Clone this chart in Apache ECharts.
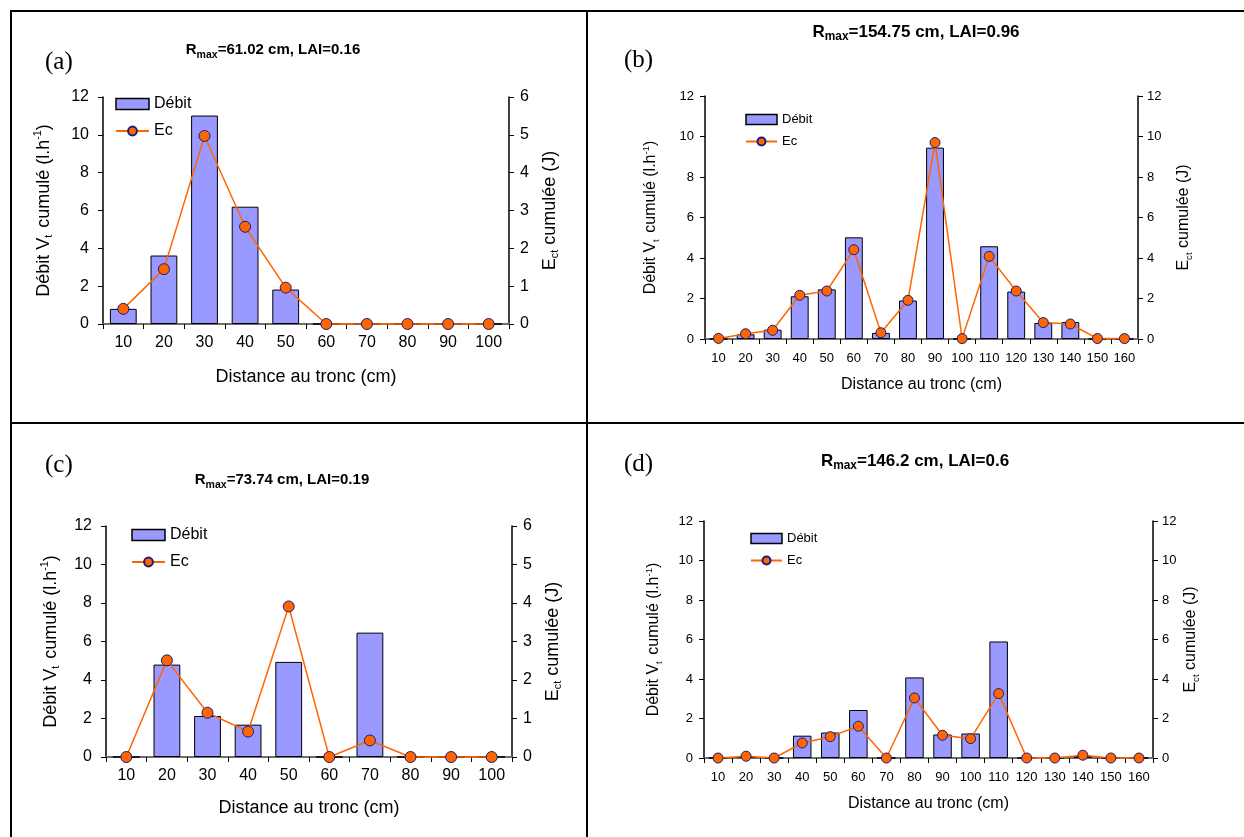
<!DOCTYPE html>
<html>
<head>
<meta charset="utf-8">
<script src="https://cdn.jsdelivr.net/npm/echarts@6/dist/echarts.min.js"></script>
<style>
html,body{margin:0;padding:0;background:#fff;}
#chart{width:1244px;height:837px;}
</style>
</head>
<body>
<div id="chart"></div>
<script>
// ---- data ----
const catsA = ['10','20','30','40','50','60','70','80','90','100'];
const catsB = ['10','20','30','40','50','60','70','80','90','100','110','120','130','140','150','160'];
const catsC = ['10','20','30','40','50','60','70','80','90','100'];
const catsD = ['10','20','30','40','50','60','70','80','90','100','110','120','130','140','150','160'];

const debitA = [0.8, 3.62, 11.02, 6.2, 1.82, 0, 0, 0, 0, 0];
const ecA    = [0.4, 1.45, 4.97, 2.57, 0.96, 0, 0, 0, 0, 0];

const debitB = [0, 0.23, 0.46, 2.11, 2.45, 5.02, 0.3, 1.9, 9.45, 0, 4.58, 2.34, 0.79, 0.84, 0, 0];
const ecB    = [0.03, 0.26, 0.43, 2.16, 2.37, 4.41, 0.31, 1.91, 9.7, 0.02, 4.08, 2.37, 0.81, 0.74, 0.02, 0.02];

const debitC = [0, 4.8, 2.13, 1.68, 4.94, 0, 6.46, 0, 0, 0];
const ecC    = [0, 2.51, 1.15, 0.66, 3.91, 0, 0.43, 0, 0, 0];

const debitD = [0, 0.1, 0, 1.13, 1.29, 2.43, 0, 4.08, 1.19, 1.24, 5.9, 0, 0, 0.1, 0, 0];
const ecD    = [0, 0.09, 0, 0.76, 1.08, 1.61, 0, 3.04, 1.15, 0.98, 3.26, 0, 0, 0.14, 0, 0];

const leftTicks    = [0, 2, 4, 6, 8, 10, 12];
const rightTicksAC = [0, 1, 2, 3, 4, 5, 6];
const rightTicksBD = [0, 2, 4, 6, 8, 10, 12];

const panelLetters = ['(a)', '(b)', '(c)', '(d)'];
const rmaxValues = ['=61.02 cm, LAI=0.16', '=154.75 cm, LAI=0.96', '=73.74 cm, LAI=0.19', '=146.2 cm, LAI=0.6'];
const seriesNames = ['Débit', 'Ec'];
const xTitle = 'Distance au tronc (cm)';

// ---- layout (positions/styles only) ----
const panels = [
  {cats: catsA, debit: debitA, ec: ecA, rTicks: rightTicksAC,
   grid: {left: 103, top: 97, width: 406, height: 227},
   title: {x: 273, y: 39, fs: 15}, letter: {x: 45, y: 50},
   legend: {left: 115, top: 96}, big: true,
   gapL: 48, gapR: 30, gapX: 44},
  {cats: catsB, debit: debitB, ec: ecB, rTicks: rightTicksBD,
   grid: {left: 705, top: 96, width: 433, height: 243},
   title: {x: 916, y: 21, fs: 17}, letter: {x: 624, y: 48},
   legend: {left: 745, top: 113}, big: false,
   gapL: 44, gapR: 36, gapX: 38},
  {cats: catsC, debit: debitC, ec: ecC, rTicks: rightTicksAC,
   grid: {left: 106, top: 526, width: 406, height: 231},
   title: {x: 282, y: 469, fs: 15}, letter: {x: 45, y: 453},
   legend: {left: 131, top: 527}, big: true,
   gapL: 44, gapR: 30, gapX: 42},
  {cats: catsD, debit: debitD, ec: ecD, rTicks: rightTicksBD,
   grid: {left: 704, top: 521, width: 449, height: 237},
   title: {x: 915, y: 450, fs: 17}, letter: {x: 624, y: 452},
   legend: {left: 750, top: 532}, big: false,
   gapL: 40, gapR: 28, gapX: 38}
];

const BAR_COLOR = '#9999FF';
const LINE_COLOR = '#FF6600';
const MARK_BORDER = '#1a1a80';
const FONT = '"Liberation Sans", Arial, sans-serif';

const option = {
  backgroundColor: '#fff',
  animation: false,
  grid: [], xAxis: [], yAxis: [], series: [], legend: [], title: [],
  graphic: []
};

panels.forEach((p, i) => {
  const tickFs = p.big ? 16 : 13;
  const nameFs = p.big ? 18 : 16;
  const legFs = p.big ? 16 : 13;
  option.grid.push(Object.assign({containLabel: false}, p.grid));

  option.xAxis.push({
    type: 'category', gridIndex: i, data: p.cats,
    boundaryGap: true,
    axisLine: {lineStyle: {color: '#6e6e6e', width: 2}},
    axisTick: {show: true, length: 5, lineStyle: {color: '#000', width: 1}},
    axisLabel: {fontFamily: FONT, fontSize: tickFs, color: '#000', margin: p.big ? 11 : 13, interval: 0},
    name: xTitle, nameLocation: 'middle', nameGap: p.gapX,
    nameTextStyle: {fontFamily: FONT, fontSize: nameFs, color: '#000'},
    splitLine: {show: false}
  });

  option.yAxis.push({
    type: 'value', gridIndex: i, position: 'left',
    min: leftTicks[0], max: leftTicks[leftTicks.length - 1],
    interval: leftTicks[1] - leftTicks[0],
    axisLine: {show: true, lineStyle: {color: '#000', width: 1.5}},
    axisTick: {show: true, length: 5, lineStyle: {color: '#000'}},
    axisLabel: {fontFamily: FONT, fontSize: tickFs, color: '#000', margin: p.big ? 14 : 11},
    splitLine: {show: false},
    name: '{n|Débit V}{s|t}{n| cumulé (l.h}{u|-1}{n|)}',
    nameLocation: 'middle', nameRotate: 90, nameGap: p.gapL,
    nameTextStyle: {
      fontFamily: FONT, color: '#000',
      rich: {
        n: {fontFamily: FONT, fontSize: nameFs, color: '#000', lineHeight: nameFs + 4},
        s: {fontFamily: FONT, fontSize: nameFs * 0.6, color: '#000', verticalAlign: 'bottom', lineHeight: nameFs + 4, padding: [0, 2, 0, 0]},
        u: {fontFamily: FONT, fontSize: nameFs * 0.6, color: '#000', verticalAlign: 'top', lineHeight: nameFs + 4}
      }
    }
  });
  option.yAxis.push({
    type: 'value', gridIndex: i, position: 'right',
    min: p.rTicks[0], max: p.rTicks[p.rTicks.length - 1],
    interval: p.rTicks[1] - p.rTicks[0],
    axisLine: {show: true, lineStyle: {color: '#000', width: 1.5}},
    axisTick: {show: true, length: 5, lineStyle: {color: '#000'}},
    axisLabel: {fontFamily: FONT, fontSize: tickFs, color: '#000', margin: p.big ? 11 : 9},
    splitLine: {show: false},
    name: '{n|E}{s|ct}{n| cumulée (J)}',
    nameLocation: 'middle', nameRotate: 90, nameGap: p.gapR,
    nameTextStyle: {
      fontFamily: FONT, color: '#000',
      rich: {
        n: {fontFamily: FONT, fontSize: nameFs, color: '#000', lineHeight: nameFs + 4},
        s: {fontFamily: FONT, fontSize: nameFs * 0.6, color: '#000', verticalAlign: 'bottom', lineHeight: nameFs + 4}
      }
    }
  });

  option.series.push({
    name: seriesNames[0], type: 'bar', xAxisIndex: i, yAxisIndex: 2 * i,
    data: p.debit, barWidth: '66%',
    itemStyle: {color: BAR_COLOR, borderColor: '#000', borderWidth: 1},
    z: 2
  });
  option.series.push({
    name: seriesNames[1], type: 'line', xAxisIndex: i, yAxisIndex: 2 * i + 1,
    data: p.ec, symbol: 'circle', symbolSize: p.big ? 11 : 10, showAllSymbol: true,
    clip: false,
    lineStyle: {color: LINE_COLOR, width: 1.5},
    itemStyle: {color: LINE_COLOR, borderColor: MARK_BORDER, borderWidth: 1},
    z: 5
  });

  option.legend.push({
    data: [
      {name: seriesNames[0], icon: 'rect', itemStyle: {color: BAR_COLOR, borderColor: '#000', borderWidth: 1.5}},
      {name: seriesNames[1]}
    ],
    orient: 'vertical', left: p.legend.left, top: p.legend.top, padding: 0,
    itemWidth: p.big ? 33 : 31, itemHeight: p.big ? 11 : 10, itemGap: p.big ? 11 : 9,
    textStyle: {fontFamily: FONT, fontSize: legFs, color: '#000'},
    selectedMode: false
  });

  option.title.push({
    text: '{b|R}{m|max}{b|' + rmaxValues[i] + '}',
    left: p.title.x, top: p.title.y, textAlign: 'center', padding: 0,
    textStyle: {
      rich: {
        b: {fontFamily: FONT, fontWeight: 'bold', fontSize: p.title.fs, color: '#000', lineHeight: 22},
        m: {fontFamily: FONT, fontWeight: 'bold', fontSize: p.title.fs * 0.7, color: '#000', verticalAlign: 'bottom', lineHeight: 22}
      }
    }
  });

  option.graphic.push({
    type: 'text', left: p.letter.x, top: p.letter.y, silent: true,
    style: {text: panelLetters[i], font: '25px "Liberation Serif", "Times New Roman", serif', fill: '#000'}
  });
});

// frame lines
const frameStyle = {stroke: '#000', lineWidth: 2};
option.graphic.push(
  {type: 'line', shape: {x1: 10, y1: 11, x2: 1244, y2: 11}, style: frameStyle, silent: true},
  {type: 'line', shape: {x1: 11, y1: 11, x2: 11, y2: 837}, style: frameStyle, silent: true},
  {type: 'line', shape: {x1: 587, y1: 11, x2: 587, y2: 837}, style: frameStyle, silent: true},
  {type: 'line', shape: {x1: 10, y1: 423, x2: 1244, y2: 423}, style: frameStyle, silent: true}
);

const chart = echarts.init(document.getElementById('chart'), null, {renderer: 'canvas'});
chart.setOption(option);
</script>
</body>
</html>
